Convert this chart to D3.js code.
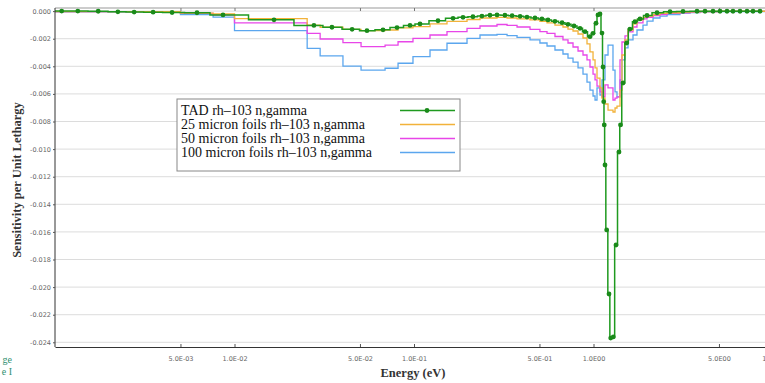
<!DOCTYPE html>
<html>
<head>
<meta charset="utf-8">
<script src="https://cdn.jsdelivr.net/npm/d3@7/dist/d3.min.js"></script>
<style>
  body { margin: 0; background: #fff; }
  svg { display: block; }
  .tick text { font-family: "DejaVu Sans", sans-serif; font-size: 6.5px; fill: #666; }
  .axis-title { font-family: "Liberation Serif", serif; font-weight: bold; fill: #333; }
  .legend text { font-family: "Liberation Serif", serif; font-size: 14px; fill: #111; }
</style>
</head>
<body>
<div id="chart"></div>
<script>
// energy group edges (eV) used by the foil histograms
var foilEdges = [0.001, 0.005, 0.0076, 0.01, 0.0254, 0.030, 0.0402, 0.0507, 0.069, 0.0815,
    0.0987, 0.1228, 0.1527, 0.1974, 0.2332, 0.290, 0.330, 0.375, 0.443, 0.503,
    0.551, 0.610, 0.676, 0.721, 0.769, 0.820, 0.874, 0.920, 0.956, 0.994,
    1.020, 1.046, 1.087, 1.115, 1.159, 1.205, 1.284, 1.318, 1.352, 1.405,
    1.441, 1.498, 1.557, 1.660, 1.747, 1.887, 1.987, 2.146, 2.347, 2.568,
    3.033, 3.449, 3.921, 5.068, 10.0];

var foil25 = [-0.00004, -0.00014, -0.00021, -0.00054, -0.00101, -0.00117, -0.00132, -0.00141, -0.00137, -0.00122,
    -0.00112, -0.00093, -0.00075, -0.00061, -0.00050, -0.00046, -0.00050, -0.00057, -0.00064, -0.00075,
    -0.00086, -0.00101, -0.00115, -0.00130, -0.00144, -0.00166, -0.00195, -0.00238, -0.00296, -0.00354,
    -0.00412, -0.00485, -0.00557, -0.00630, -0.00673, -0.00717, -0.00731, -0.00702, -0.00688, -0.00572,
    -0.00318, -0.00209, -0.00137, -0.00093, -0.00064, -0.00046, -0.00036, -0.00025, -0.00017, -0.00012,
    -0.00008, -0.00005, -0.00003, -0.00001];

var foil50 = [-0.00004, -0.00017, -0.00028, -0.00086, -0.00161, -0.00202, -0.00229, -0.00258, -0.00246, -0.00222,
    -0.00197, -0.00173, -0.00149, -0.00125, -0.00108, -0.00097, -0.00103, -0.00115, -0.00133, -0.00148,
    -0.00162, -0.00184, -0.00209, -0.00231, -0.00260, -0.00289, -0.00318, -0.00354, -0.00405, -0.00456,
    -0.00499, -0.00543, -0.00586, -0.00622, -0.00535, -0.00557, -0.00644, -0.00630, -0.00622, -0.00354,
    -0.00224, -0.00180, -0.00151, -0.00115, -0.00086, -0.00057, -0.00046, -0.00032, -0.00025, -0.00017,
    -0.00012, -0.00008, -0.00004, -0.00002];

var foil100 = [-0.00005, -0.00025, -0.00043, -0.00141, -0.00270, -0.00325, -0.00398, -0.00427, -0.00414, -0.00378,
    -0.00330, -0.00282, -0.00233, -0.00197, -0.00173, -0.00168, -0.00177, -0.00191, -0.00209, -0.00231,
    -0.00253, -0.00282, -0.00311, -0.00340, -0.00369, -0.00412, -0.00456, -0.00514, -0.00572, -0.00615,
    -0.00644, -0.00557, -0.00608, -0.00499, -0.00318, -0.00246, -0.00427, -0.00586, -0.00622, -0.00499,
    -0.00354, -0.00267, -0.00209, -0.00173, -0.00137, -0.00101, -0.00072, -0.00050, -0.00036, -0.00025,
    -0.00015, -0.00010, -0.00006, -0.00003];

// TAD: fine-group points (group centres)
var tadEnergy = [0.00109, 0.00134, 0.00174, 0.00224, 0.00276, 0.00352, 0.00449, 0.00618, 0.00863, 0.0166,
    0.0277, 0.0349, 0.0452, 0.0547, 0.0672, 0.0804, 0.095, 0.108, 0.136, 0.165,
    0.1875, 0.213, 0.239, 0.265, 0.290, 0.321, 0.352, 0.390, 0.426, 0.472,
    0.516, 0.558, 0.610, 0.668, 0.721, 0.779, 0.841, 0.897, 0.956, 0.994,
    1.033, 1.059, 1.087, 1.115, 1.130, 1.140, 1.148, 1.159, 1.184, 1.220,
    1.247, 1.289, 1.335, 1.387, 1.414, 1.460, 1.531, 1.596, 1.702, 1.816,
    1.987, 2.259, 2.669, 3.152, 3.773, 4.180, 4.632, 5.068, 5.542, 5.985,
    6.549, 7.164, 7.737, 8.464];
var tadValue = [0, 0, -0.00001, -0.00005, -0.00007, -0.00008, -0.00010, -0.00012, -0.00028, -0.00063,
    -0.00104, -0.00117, -0.00132, -0.00142, -0.00136, -0.00119, -0.00104, -0.00093, -0.00070, -0.00052,
    -0.00045, -0.00041, -0.00036, -0.00030, -0.00028, -0.00030, -0.00033, -0.00038, -0.00043, -0.00050,
    -0.00057, -0.00064, -0.00074, -0.00084, -0.00096, -0.00108, -0.00125, -0.00149, -0.00185, -0.00161,
    -0.00088, -0.00028, -0.00021, -0.00159, -0.00405, -0.00656, -0.00825, -0.01115, -0.01586, -0.02050,
    -0.02369, -0.02361, -0.01695, -0.01021, -0.00825, -0.00521, -0.00231, -0.00130, -0.00077, -0.00057,
    -0.00032, -0.00012, -0.00004, -0.00002, -0.00001, -0.00001, -0.00001, -0.00001, -0.00001, -0.00001,
    -0.00001, -0.00001, -0.00001, -0.00001];

var xTicks = [0.005, 0.01, 0.05, 0.1, 0.5, 1, 5, 10];
var xTickLabels = ["5.0E-03", "1.0E-02", "5.0E-02", "1.0E-01", "5.0E-01", "1.0E00", "5.0E00", "1.0E01"];
var yTicks = [0, -0.002, -0.004, -0.006, -0.008, -0.010, -0.012, -0.014, -0.016, -0.018, -0.020, -0.022, -0.024];

var seriesNames = ["TAD rh\u2013103 n,gamma", "25 micron foils rh\u2013103 n,gamma",
    "50 micron foils rh\u2013103 n,gamma", "100 micron foils rh\u2013103 n,gamma"];
var seriesColors = ["#1f9a1f", "#f2b23a", "#e846e8", "#5ba6ee"];

var W = 765, H = 383;
var margin = {top: 8, right: 0, bottom: 36, left: 55};

var x = d3.scaleLog().domain([0.001, 10]).range([margin.left, 773]);
var y = d3.scaleLinear().domain([-0.02434, 0.000225]).range([H - margin.bottom, margin.top]);

var svg = d3.select("#chart").append("svg")
    .attr("width", W)
    .attr("height", H);

svg.append("defs").append("clipPath").attr("id", "plotclip")
  .append("rect")
    .attr("x", margin.left).attr("y", margin.top)
    .attr("width", W - margin.left).attr("height", H - margin.bottom - margin.top);

// horizontal grid
svg.append("g")
  .selectAll("line")
  .data(yTicks)
  .enter().append("line")
    .attr("x1", margin.left).attr("x2", W)
    .attr("y1", function(d) { return y(d); })
    .attr("y2", function(d) { return y(d); })
    .attr("stroke", "#dcdcdc")
    .attr("stroke-width", 1);

// top frame
svg.append("line")
    .attr("x1", margin.left).attr("x2", W)
    .attr("y1", margin.top).attr("y2", margin.top)
    .attr("stroke", "#999");
svg.append("g")
    .attr("transform", "translate(0," + margin.top + ")")
    .call(d3.axisBottom(x).tickValues(xTicks).tickSize(3).tickFormat(""))
    .call(function(g) { g.select(".domain").remove(); g.selectAll(".tick line").attr("stroke", "#777"); });

// series
var stepLine = d3.line()
    .x(function(d) { return x(d.e); })
    .y(function(d) { return y(d.v); })
    .curve(d3.curveStepAfter);

function stepData(values) {
    var pts = values.map(function(v, i) { return {e: foilEdges[i], v: v}; });
    pts.push({e: foilEdges[foilEdges.length - 1], v: values[values.length - 1]});
    return pts;
}

var plot = svg.append("g").attr("clip-path", "url(#plotclip)");

[[foil100, 3], [foil50, 2], [foil25, 1]].forEach(function(s) {
    plot.append("path")
        .datum(stepData(s[0]))
        .attr("fill", "none")
        .attr("stroke", seriesColors[s[1]])
        .attr("stroke-width", 1.3)
        .attr("d", stepLine);
});

var tadPts = tadEnergy.map(function(e, i) { return {e: e, v: tadValue[i]}; });
var tadLine = d3.line()
    .x(function(d) { return x(d.e); })
    .y(function(d) { return y(d.v); })
    .curve(d3.curveStep);
plot.append("path")
    .datum([{e: x.domain()[0], v: tadValue[0]}].concat(tadPts))
    .attr("fill", "none")
    .attr("stroke", seriesColors[0])
    .attr("stroke-width", 1.5)
    .attr("d", tadLine);
plot.append("g")
  .selectAll("circle")
  .data(tadPts)
  .enter().append("circle")
    .attr("cx", function(d) { return x(d.e); })
    .attr("cy", function(d) { return y(d.v); })
    .attr("r", 2.4)
    .attr("fill", "#1a8a1a");

// axes
var xAxis = svg.append("g")
    .attr("transform", "translate(0," + (H - margin.bottom) + ")")
    .call(d3.axisBottom(x).tickValues(xTicks).tickSizeInner(-3).tickSizeOuter(0)
        .tickPadding(9)
        .tickFormat(function(d, i) { return xTickLabels[i]; }));
xAxis.select(".domain").attr("stroke", "#333");
xAxis.selectAll(".tick line").attr("stroke", "#555");

var yAxis = svg.append("g")
    .attr("transform", "translate(" + margin.left + ",0)")
    .call(d3.axisLeft(y).tickValues(yTicks).tickSize(2).tickPadding(2)
        .tickFormat(function(d) { return d.toFixed(3); }));
yAxis.select(".domain").attr("stroke", "#333").attr("d", "M0," + margin.top + "V" + (H - margin.bottom));
yAxis.selectAll(".tick line").attr("stroke", "#555");

svg.append("text")
    .attr("class", "axis-title")
    .attr("x", 413).attr("y", 377)
    .attr("text-anchor", "middle")
    .style("font-size", "12.5px")
    .text("Energy (eV)");

svg.append("text")
    .attr("class", "axis-title")
    .attr("transform", "translate(21,180) rotate(-90)")
    .attr("text-anchor", "middle")
    .style("font-size", "12.5px")
    .text("Sensitivity per Unit Lethargy");

// legend
var legend = svg.append("g").attr("class", "legend");
legend.append("rect")
    .attr("x", 177).attr("y", 99)
    .attr("width", 283).attr("height", 72)
    .attr("fill", "#fff")
    .attr("stroke", "#888");
seriesNames.forEach(function(name, i) {
    var cy = 110.5 + i * 14;
    legend.append("text").attr("x", 181).attr("y", cy + 4.5).text(name);
    legend.append("line")
        .attr("x1", 400).attr("x2", 455)
        .attr("y1", cy).attr("y2", cy)
        .attr("stroke", seriesColors[i])
        .attr("stroke-width", 1.3);
    if (i === 0) {
        legend.append("circle").attr("cx", 427).attr("cy", cy).attr("r", 2.4).attr("fill", "#1a8a1a");
    }
});

// clipped caption fragments from the page edge
svg.append("g")
    .selectAll("text")
    .data(["ge", "e I"])
    .enter().append("text")
    .attr("x", 12)
    .attr("y", function(d, i) { return 363 + i * 12; })
    .attr("text-anchor", "end")
    .style("font-family", "Liberation Serif, serif")
    .style("font-size", "10px")
    .style("fill", "#2f8f6f")
    .text(function(d) { return d; });
</script>
</body>
</html>
